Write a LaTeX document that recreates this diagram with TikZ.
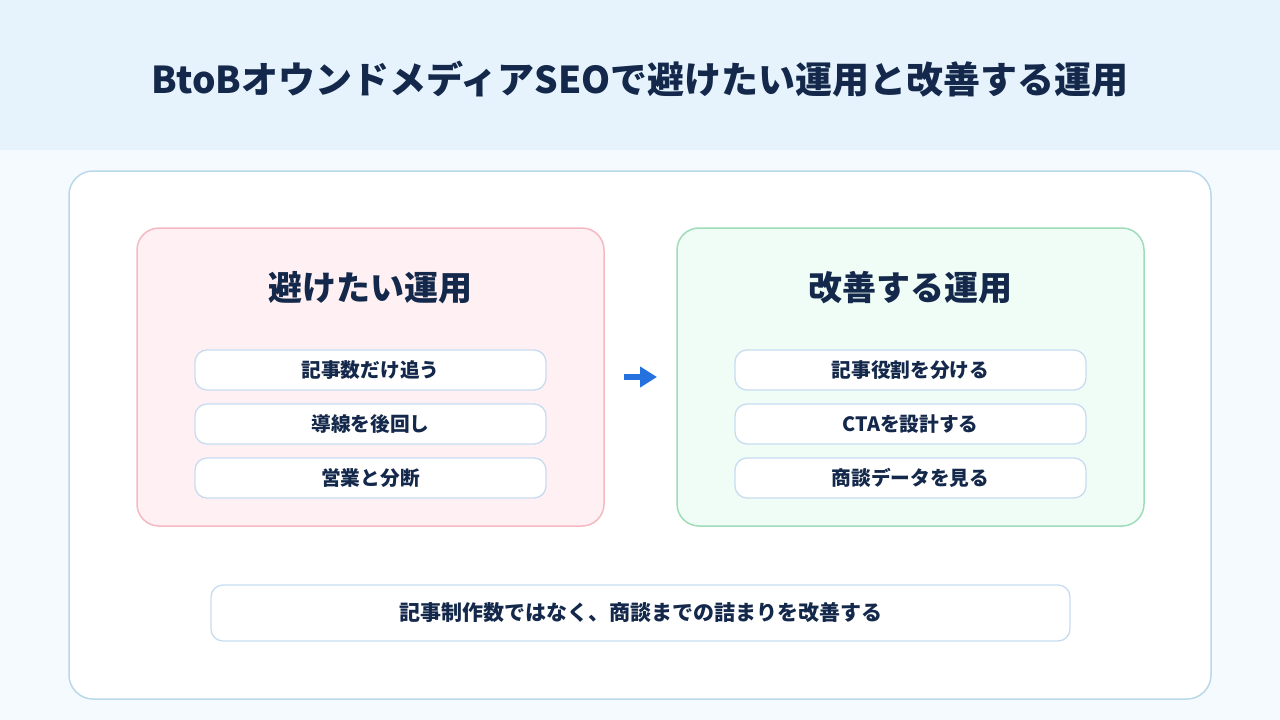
\documentclass[tikz,border=0pt]{standalone}
\usepackage{fontspec}
\setmainfont{Noto Sans CJK JP}
\usetikzlibrary{arrows.meta}
\definecolor{navy}{HTML}{13284A}
\definecolor{headbg}{HTML}{E6F3FD}
\definecolor{pagebg}{HTML}{F5FAFE}
\definecolor{cardline}{HTML}{B9D8EA}
\definecolor{redfill}{HTML}{FFF0F3}
\definecolor{redline}{HTML}{F4B9C1}
\definecolor{greenfill}{HTML}{F0FDF6}
\definecolor{greenline}{HTML}{9FDCB9}
\definecolor{itemline}{HTML}{C8DCF0}
\definecolor{arrowblue}{HTML}{2671E0}
\tikzset{
  panel/.style={rounded corners=22pt, line width=1.5pt},
  itembox/.style={draw=itemline, fill=white, rounded corners=12pt, line width=1.3pt,
    minimum width=351pt, minimum height=40pt, font=\fontsize{19.7}{22}\selectfont\bfseries, text=navy},
  paneltitle/.style={font=\fontsize{34}{38}\selectfont\bfseries, text=navy},
}
\begin{document}
\begin{tikzpicture}[x=1pt,y=-1pt]
\useasboundingbox (0,0) rectangle (1280,720);
\fill[pagebg] (0,0) rectangle (1280,720);
\fill[headbg] (0,0) rectangle (1280,150);
\node[font=\fontsize{37}{40}\selectfont\bfseries, text=navy] (title) at (640,79) {BtoBオウンドメディアSEOで避けたい運用と改善する運用};
\draw[cardline, fill=white, rounded corners=24pt, line width=1.5pt] (69,171) rectangle (1211,699);
% left panel
\draw[panel, draw=redline, fill=redfill] (137,228) rectangle (604,526);
\node[paneltitle] (lt) at (370.5,288) {避けたい運用};
\node[itembox] (l1) at (370.5,370) {記事数だけ追う};
\node[itembox] (l2) at (370.5,424) {導線を後回し};
\node[itembox] (l3) at (370.5,478) {営業と分断};
% right panel
\draw[panel, draw=greenline, fill=greenfill] (677,228) rectangle (1144,526);
\node[paneltitle] (rt) at (910.5,288) {改善する運用};
\node[itembox] (r1) at (910.5,370) {記事役割を分ける};
\node[itembox] (r2) at (910.5,424) {CTAを設計する};
\node[itembox] (r3) at (910.5,478) {商談データを見る};
% arrow
\coordinate (a0) at (624,377);
\coordinate (a1) at (657,377);
\draw[arrowblue, line width=5.5pt, -{Triangle[length=17pt,width=20pt]}] (a0) -- (a1);
% bottom
\node[draw=itemline, fill=white, rounded corners=12pt, line width=1.3pt,
  minimum width=859pt, minimum height=56pt, font=\fontsize{21}{24}\selectfont\bfseries, text=navy]
  (bottom) at (640.5,613) {記事制作数ではなく、商談までの詰まりを改善する};
\end{tikzpicture}
\end{document}
